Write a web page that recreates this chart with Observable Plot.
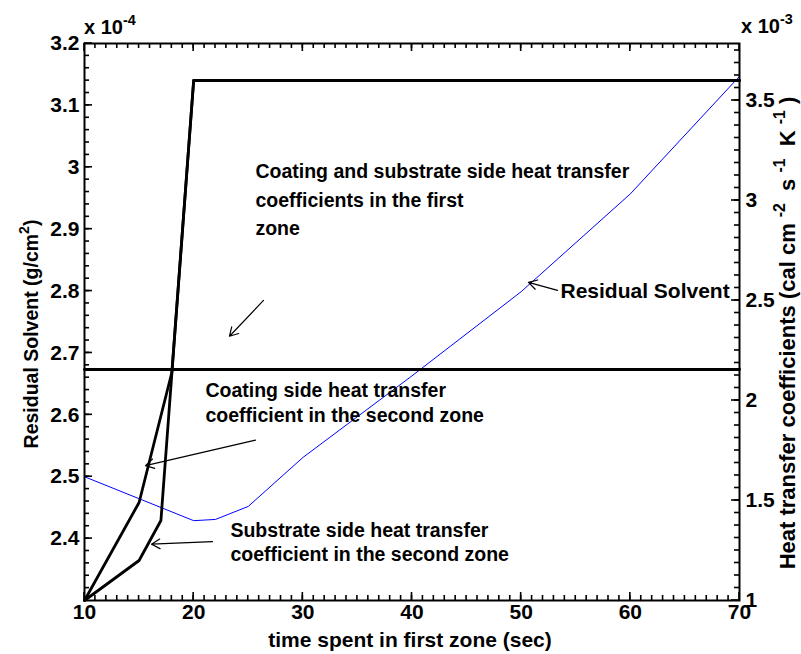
<!DOCTYPE html>
<html><head><meta charset="utf-8">
<script src="https://cdn.jsdelivr.net/npm/d3@7"></script>
<script src="https://cdn.jsdelivr.net/npm/@observablehq/plot@0.6"></script>
<style>
body{margin:0;background:#fff}
#chart{position:relative;width:801px;height:654px}
#chart svg{position:absolute;left:0;top:0;overflow:visible}
</style></head><body><div id="chart"></div>
<script>
// ---- data ----
const coatingTime = [10, 15, 18, 20, 70];
const coatingSecondZone = [1.00, 1.49, 2.14, 3.60, 3.60];      // x 10^-3
const substrateTime = [10, 15, 17, 20, 70];
const substrateSecondZone = [1.00, 1.20, 1.40, 3.60, 3.60];    // x 10^-3
const firstZoneTime = [10, 70];
const firstZoneCoef = [2.155, 2.155];                           // x 10^-3
const solventTime = [10, 20, 22, 25, 30, 40, 50, 60, 70];
const residualSolvent = [2.500, 2.429, 2.431, 2.452, 2.531, 2.663, 2.799, 2.957, 3.147]; // x 10^-4
const xTickValues = [10, 20, 30, 40, 50, 60, 70];
const leftTickValues = [2.4, 2.5, 2.6, 2.7, 2.8, 2.9, 3.0, 3.1, 3.2];
const rightTickValues = [1, 1.5, 2, 2.5, 3, 3.5];
const xMinorTicks = d3.range(11, 70, 1);
const leftMinorTicks = d3.range(2.32, 3.19, 0.02);
const rightMinorTicks = d3.range(1.0625, 3.78, 0.0625);

// annotations (data coordinates: time, residual solvent scale)
const annLabels = [
  "Coating and substrate side heat transfer", "coefficients in the first", "zone",
  "Coating side heat transfer", "coefficient in the second zone",
  "Substrate side heat transfer", "coefficient in the second zone",
  "Residual Solvent"];
const annX = [25.66, 25.66, 25.66, 21.08, 21.08, 23.37, 23.37, 53.60];
const annY = [2.993, 2.946, 2.901, 2.639, 2.599, 2.413, 2.374, 2.799];
const arrowX1 = [26.40, 25.66, 21.72, 53.33];
const arrowY1 = [2.785, 2.559, 2.395, 2.801];
const arrowX2 = [23.28, 15.59, 16.14, 50.67];
const arrowY2 = [2.727, 2.518, 2.391, 2.814];

// ---- layout ----
const W = 801, H = 654, mL = 84, mR = 62, mT = 43, mB = 54;
const FONT = "Arial, 'Liberation Sans', sans-serif";
const FS = 21;

const solventData = solventTime.map((t, i) => ({t, v: residualSolvent[i]}));
const coatData = coatingTime.map((t, i) => ({t, v: coatingSecondZone[i]}));
const subData = substrateTime.map((t, i) => ({t, v: substrateSecondZone[i]}));
const firstData = firstZoneTime.map((t, i) => ({t, v: firstZoneCoef[i]}));
const annData = annLabels.map((s, i) => ({s, x: annX[i], y: annY[i], big: i === 7}));
const arrowData = arrowX1.map((x1, i) => ({x1, y1: arrowY1[i], x2: arrowX2[i], y2: arrowY2[i]}));

const fmt = d => String(+(+d).toFixed(2));
const common = {
  width: W, height: H, marginLeft: mL, marginRight: mR, marginTop: mT, marginBottom: mB,
  style: {background: "transparent", fontFamily: FONT, overflow: "visible"}
};

const p1 = Plot.plot({
  ...common,
  x: {domain: [10, 70]},
  y: {domain: [2.3, 3.2]},
  marks: [
    Plot.line(solventData, {x: "t", y: "v", stroke: "#0000ff", strokeWidth: 1}),
    Plot.axisX(xTickValues, {anchor: "bottom", tickSize: 0, tickPadding: 4, fontSize: FS, fontWeight: "bold", fill: "#000", tickFormat: fmt, label: null}),
    Plot.axisY(leftTickValues, {anchor: "left", tickSize: 0, tickPadding: 5, fontSize: FS, fontWeight: "bold", fill: "#000", tickFormat: fmt, label: null}),
    Plot.frame({stroke: "#000", strokeWidth: 2}),
    Plot.arrow(arrowData, {x1: "x1", y1: "y1", x2: "x2", y2: "y2", stroke: "#000", strokeWidth: 1.2, headLength: 12}),
    Plot.text(annData.filter(d => !d.big), {x: "x", y: "y", text: "s", textAnchor: "start", fontSize: 19.5, fontWeight: "bold", fill: "#000"}),
    Plot.text(annData.filter(d => d.big), {x: "x", y: "y", text: "s", textAnchor: "start", fontSize: 21, fontWeight: "bold", fill: "#000"})
  ]
});

const p2 = Plot.plot({
  ...common,
  x: {domain: [10, 70], axis: null},
  y: {domain: [1, 3.785]},
  marks: [
    Plot.line(firstData, {x: "t", y: "v", stroke: "#000", strokeWidth: 2.8}),
    Plot.line(coatData, {x: "t", y: "v", stroke: "#000", strokeWidth: 2.8}),
    Plot.line(subData, {x: "t", y: "v", stroke: "#000", strokeWidth: 2.8}),
    Plot.axisY(rightTickValues, {anchor: "right", tickSize: 0, tickPadding: 6, fontSize: FS, fontWeight: "bold", fill: "#000", tickFormat: fmt, label: null})
  ]
});

const chart = document.getElementById("chart");
chart.appendChild(p1);
chart.appendChild(p2);

// inward tick marks, positioned through the plots' own scales
const xs = p1.scale("x"), yl = p1.scale("y"), yr = p2.scale("y");
const g = d3.select(p2).append("g").attr("stroke", "#000").attr("stroke-width", 1.6);
const fTop = mT, fBottom = H - mB, fLeft = mL, fRight = W - mR;
function xt(v, len) {
  const x = xs.apply(v);
  g.append("line").attr("x1", x).attr("x2", x).attr("y1", fTop).attr("y2", fTop + len);
  g.append("line").attr("x1", x).attr("x2", x).attr("y1", fBottom).attr("y2", fBottom - len);
}
xMinorTicks.forEach(v => xt(v, 5));
xTickValues.forEach(v => xt(v, 8));
leftMinorTicks.forEach(v => { const y = yl.apply(v); g.append("line").attr("x1", fLeft).attr("x2", fLeft + 5).attr("y1", y).attr("y2", y); });
leftTickValues.forEach(v => { const y = yl.apply(v); g.append("line").attr("x1", fLeft).attr("x2", fLeft + 8).attr("y1", y).attr("y2", y); });
rightMinorTicks.forEach(v => { const y = yr.apply(v); g.append("line").attr("x1", fRight).attr("x2", fRight - 5).attr("y1", y).attr("y2", y); });
rightTickValues.forEach(v => { const y = yr.apply(v); g.append("line").attr("x1", fRight).attr("x2", fRight - 8).attr("y1", y).attr("y2", y); });

// rich text (exponents, axis titles with superscripts)
const svg = d3.select(p2);
function rich(x, y, rotate, anchor, parts, size) {
  const t = svg.append("text")
    .attr("transform", `translate(${x},${y}) rotate(${rotate})`)
    .attr("text-anchor", anchor)
    .attr("font-family", FONT).attr("font-weight", "bold").attr("font-size", size).attr("fill", "#000");
  parts.forEach(p => {
    const s = t.append("tspan").text(p.t);
    if (p.sup) s.attr("font-size", size * 0.72).attr("dy", -size * 0.45);
    else if (p.after) s.attr("dy", size * 0.45);
  });
  return t;
}
rich(84, 34, 0, "start", [{t: "x 10"}, {t: "-4", sup: true}], 20);
rich(741, 33, 0, "start", [{t: "x 10"}, {t: "-3", sup: true}], 20);
rich(410, 647, 0, "middle", [{t: "time spent in first zone (sec)"}], 21);
rich(38, 334, -90, "middle", [{t: "Residual Solvent (g/cm"}, {t: "2", sup: true}, {t: ")", after: true}], 19.5);
rich(795, 333, -90, "middle", [
  {t: "Heat transfer coefficients (cal cm "}, {t: "-2", sup: true},
  {t: "  s ", after: true}, {t: "-1", sup: true},
  {t: "  K ", after: true}, {t: "-1", sup: true}, {t: " )", after: true}], 22);
</script></body></html>
